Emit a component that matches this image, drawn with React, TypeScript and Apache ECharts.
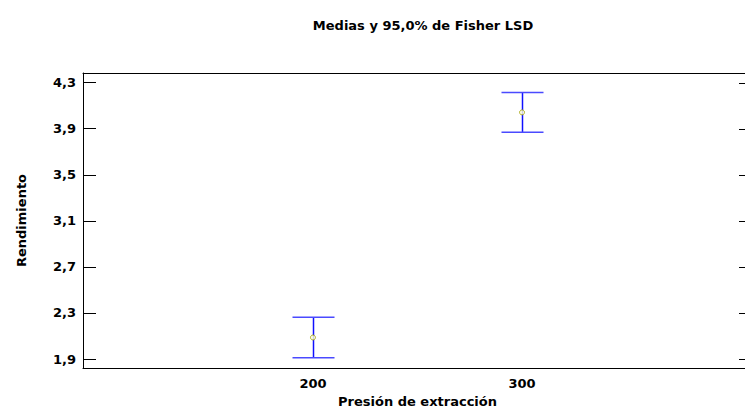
import React, { useEffect, useRef } from "react";
import * as echarts from "echarts";

// Extraction pressure levels and Fisher LSD intervals for the yield mean
const pressures: number[] = [200, 300];
const means: number[] = [2.087, 4.042];
const lowerLimits: number[] = [1.911, 3.870];
const upperLimits: number[] = [2.262, 4.214];
const yTicks: number[] = [1.9, 2.3, 2.7, 3.1, 3.5, 3.9, 4.3];

const X_MIN = 90;
const X_MAX = 410;
const Y_MIN = 1.822;
const Y_MAX = 4.384;

const FONT = "'DejaVu Sans', sans-serif";

export default function App() {
  const ref = useRef<HTMLDivElement>(null);

  useEffect(() => {
    document.body.style.margin = "0";
    if (!ref.current) return;
    const chart = echarts.init(ref.current, null, { renderer: "svg" });

    const intervalData = pressures.map((p, i) => [p, lowerLimits[i], upperLimits[i]]);
    const meanData = pressures.map((p, i) => [p, means[i]]);

    const capHalf = 21;
    const tickLen = 13;
    const textBase = { fontFamily: FONT, fontSize: 13, fontWeight: "bold", color: "#000" };
    const frameLine = { show: true, onZero: false, lineStyle: { color: "#000", width: 1 } };

    chart.setOption({
      animation: false,
      backgroundColor: "#ffffff",
      title: {
        text: "Medias y 95,0% de Fisher LSD",
        left: 418,
        top: 14,
        textAlign: "center",
        textStyle: textBase,
      },
      grid: {
        left: 83,
        top: 73,
        width: 669,
        height: 295,
        outerBoundsMode: "none",
        containLabel: false,
        show: false,
      },
      xAxis: [
        {
          type: "value",
          min: X_MIN,
          max: X_MAX,
          name: "Presión de extracción",
          nameLocation: "middle",
          nameGap: 26,
          nameTextStyle: textBase,
          axisLine: frameLine,
          axisTick: { show: false },
          splitLine: { show: false },
          axisLabel: { customValues: pressures, margin: 9, ...textBase },
        },
        {
          // top edge of the plot frame
          type: "value",
          position: "top",
          min: X_MIN,
          max: X_MAX,
          axisLine: frameLine,
          axisTick: { show: false },
          splitLine: { show: false },
          axisLabel: { show: false },
        },
      ],
      yAxis: {
        type: "value",
        min: Y_MIN,
        max: Y_MAX,
        name: "Rendimiento",
        nameLocation: "middle",
        nameGap: 55,
        nameTextStyle: textBase,
        axisLine: frameLine,
        axisTick: {
          show: true,
          inside: true,
          length: tickLen,
          customValues: yTicks,
          lineStyle: { color: "#000", width: 1 },
        },
        splitLine: { show: false },
        axisLabel: {
          customValues: yTicks,
          margin: 7,
          ...textBase,
          formatter: (v: number) => v.toFixed(1).replace(".", ","),
        },
      },
      series: [
        {
          // inward ticks along the right edge of the frame
          type: "custom",
          data: yTicks.map((v) => [X_MAX, v]),
          encode: { x: 0, y: 1 },
          silent: true,
          renderItem: (params: any, api: any) => {
            const p = api.coord([api.value(0), api.value(1)]);
            const y = Math.round(p[1]) + 0.5;
            return {
              type: "line",
              shape: { x1: p[0] - tickLen, y1: y, x2: p[0], y2: y },
              style: { stroke: "#000", lineWidth: 1 },
            };
          },
          z: 1,
        },
        {
          type: "custom",
          data: intervalData,
          encode: { x: 0, y: [1, 2] },
          renderItem: (params: any, api: any) => {
            const x = api.value(0);
            const lo = api.coord([x, api.value(1)]);
            const hi = api.coord([x, api.value(2)]);
            const cx = Math.round(lo[0]) + 0.5;
            return {
              type: "group",
              children: [
                {
                  type: "line",
                  shape: { x1: cx, y1: hi[1], x2: cx, y2: lo[1] },
                  style: { stroke: "#1010ff", lineWidth: 1.5 },
                },
                {
                  type: "line",
                  shape: { x1: cx - capHalf, y1: hi[1], x2: cx + capHalf, y2: hi[1] },
                  style: { stroke: "#4a4aff", lineWidth: 1.5 },
                },
                {
                  type: "line",
                  shape: { x1: cx - capHalf, y1: lo[1], x2: cx + capHalf, y2: lo[1] },
                  style: { stroke: "#4a4aff", lineWidth: 1.5 },
                },
              ],
            };
          },
          z: 2,
        },
        {
          type: "scatter",
          data: meanData,
          symbol: "circle",
          symbolSize: 5,
          itemStyle: { color: "#ffffe0", borderColor: "#a0a000", borderWidth: 1 },
          z: 3,
        },
      ],
    });

    return () => chart.dispose();
  }, []);

  // The plot frame runs past the right edge; the outer box trims it.
  return (
    <div style={{ width: 745, height: 411, overflow: "hidden", position: "relative" }}>
      <div ref={ref} style={{ width: 770, height: 411 }} />
    </div>
  );
}
